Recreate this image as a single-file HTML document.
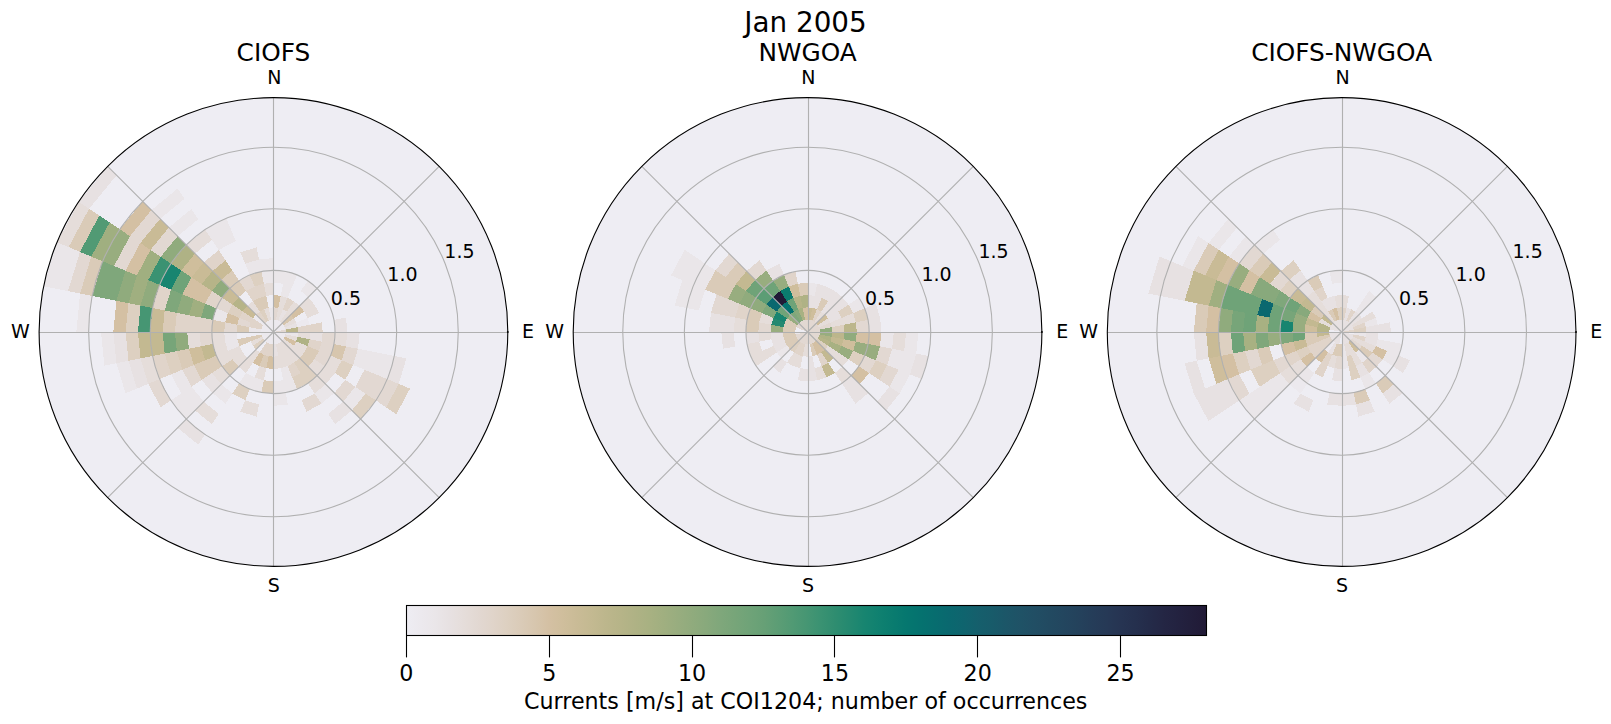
<!DOCTYPE html>
<html lang="en"><head><meta charset="utf-8"><title>Jan 2005</title>
<style>html,body{margin:0;padding:0;background:#fff}svg{display:block}text{font-family:"DejaVu Sans","Liberation Sans",sans-serif;fill:#000}</style></head><body>
<svg width="1611" height="724" viewBox="0 0 1611 724">
<rect width="1611" height="724" fill="#fff"/>
<g>
<circle cx="273.45" cy="332.0" r="234.35" fill="#eeedf3"/>
<g shape-rendering="crispEdges">
<polygon points="273.4,319.7 275.9,319.9 273.4,332.0" fill="#ece9ee"/>
<polygon points="273.4,319.7 273.4,307.4 278.3,307.8 275.9,319.9" fill="#e2d8d2"/>
<polygon points="273.4,307.4 273.4,295.0 280.7,295.8 278.3,307.8" fill="#d4c0a3"/>
<polygon points="273.4,282.7 273.4,270.4 285.5,271.6 283.1,283.7" fill="#eae6e9"/>
<polygon points="275.9,319.9 278.2,320.6 273.4,332.0" fill="#ece9ee"/>
<polygon points="275.9,319.9 278.3,307.8 282.9,309.2 278.2,320.6" fill="#e5ddda"/>
<polygon points="278.3,307.8 280.7,295.8 287.6,297.9 282.9,309.2" fill="#e5ddda"/>
<polygon points="280.7,295.8 283.1,283.7 292.3,286.5 287.6,297.9" fill="#eae6e9"/>
<polygon points="283.1,283.7 285.5,271.6 297.0,275.1 292.3,286.5" fill="#eae6e9"/>
<polygon points="278.2,320.6 280.3,321.8 273.4,332.0" fill="#ece9ee"/>
<polygon points="278.2,320.6 282.9,309.2 287.1,311.5 280.3,321.8" fill="#e7e1e2"/>
<polygon points="282.9,309.2 287.6,297.9 294.0,301.3 287.1,311.5" fill="#e0d4ca"/>
<polygon points="280.3,321.8 282.2,323.3 273.4,332.0" fill="#ece9ee"/>
<polygon points="280.3,321.8 287.1,311.5 290.9,314.6 282.2,323.3" fill="#e5ddda"/>
<polygon points="287.1,311.5 294.0,301.3 299.6,305.9 290.9,314.6" fill="#e5ddda"/>
<polygon points="300.8,291.0 307.7,280.8 317.0,288.4 308.3,297.2" fill="#eae6e9"/>
<polygon points="282.2,323.3 283.7,325.2 273.4,332.0" fill="#ece9ee"/>
<polygon points="282.2,323.3 290.9,314.6 293.9,318.3 283.7,325.2" fill="#d7c6ae"/>
<polygon points="290.9,314.6 299.6,305.9 304.2,311.5 293.9,318.3" fill="#d4c0a3"/>
<polygon points="299.6,305.9 308.3,297.2 314.4,304.6 304.2,311.5" fill="#e5ddda"/>
<polygon points="283.7,325.2 284.8,327.3 273.4,332.0" fill="#ece9ee"/>
<polygon points="283.7,325.2 293.9,318.3 296.2,322.6 284.8,327.3" fill="#e5ddda"/>
<polygon points="304.2,311.5 314.4,304.6 319.0,313.1 307.6,317.9" fill="#e5ddda"/>
<polygon points="284.8,327.3 285.5,329.6 273.4,332.0" fill="#ece9ee"/>
<polygon points="284.8,327.3 296.2,322.6 297.6,327.2 285.5,329.6" fill="#e7e1e2"/>
<polygon points="296.2,322.6 307.6,317.9 309.7,324.8 297.6,327.2" fill="#ece9ee"/>
<polygon points="285.5,329.6 285.8,332.0 273.4,332.0" fill="#e2d8d2"/>
<polygon points="285.5,329.6 297.6,327.2 298.1,332.0 285.8,332.0" fill="#bcb68c"/>
<polygon points="297.6,327.2 309.7,324.8 310.4,332.0 298.1,332.0" fill="#e0d4ca"/>
<polygon points="309.7,324.8 321.8,322.4 322.7,332.0 310.4,332.0" fill="#e0d4ca"/>
<polygon points="333.9,320.0 345.9,317.6 347.4,332.0 335.1,332.0" fill="#e7e1e2"/>
<polygon points="285.8,332.0 285.5,334.4 273.4,332.0" fill="#ece9ee"/>
<polygon points="285.8,332.0 298.1,332.0 297.6,336.8 285.5,334.4" fill="#eae6e9"/>
<polygon points="298.1,332.0 310.4,332.0 309.7,339.2 297.6,336.8" fill="#e5ddda"/>
<polygon points="310.4,332.0 322.7,332.0 321.8,341.6 309.7,339.2" fill="#e7e1e2"/>
<polygon points="322.7,332.0 335.1,332.0 333.9,344.0 321.8,341.6" fill="#e2d8d2"/>
<polygon points="335.1,332.0 347.4,332.0 345.9,346.4 333.9,344.0" fill="#e5ddda"/>
<polygon points="347.4,332.0 359.7,332.0 358.0,348.8 345.9,346.4" fill="#e7e1e2"/>
<polygon points="285.5,334.4 284.8,336.7 273.4,332.0" fill="#ece9ee"/>
<polygon points="285.5,334.4 297.6,336.8 296.2,341.4 284.8,336.7" fill="#e5ddda"/>
<polygon points="297.6,336.8 309.7,339.2 307.6,346.1 296.2,341.4" fill="#afb285"/>
<polygon points="309.7,339.2 321.8,341.6 319.0,350.9 307.6,346.1" fill="#e0d4ca"/>
<polygon points="321.8,341.6 333.9,344.0 330.4,355.6 319.0,350.9" fill="#e2d8d2"/>
<polygon points="333.9,344.0 345.9,346.4 341.7,360.3 330.4,355.6" fill="#d7c6ae"/>
<polygon points="345.9,346.4 358.0,348.8 353.1,365.0 341.7,360.3" fill="#e2d8d2"/>
<polygon points="358.0,348.8 370.1,351.2 364.5,369.7 353.1,365.0" fill="#eae6e9"/>
<polygon points="370.1,351.2 382.2,353.6 375.9,374.4 364.5,369.7" fill="#eae6e9"/>
<polygon points="382.2,353.6 394.3,356.0 387.3,379.1 375.9,374.4" fill="#eae6e9"/>
<polygon points="394.3,356.0 406.4,358.4 398.7,383.9 387.3,379.1" fill="#e7e1e2"/>
<polygon points="284.8,336.7 283.7,338.8 273.4,332.0" fill="#ece9ee"/>
<polygon points="284.8,336.7 296.2,341.4 293.9,345.7 283.7,338.8" fill="#d4c0a3"/>
<polygon points="296.2,341.4 307.6,346.1 304.2,352.5 293.9,345.7" fill="#e5ddda"/>
<polygon points="307.6,346.1 319.0,350.9 314.4,359.4 304.2,352.5" fill="#dacbb8"/>
<polygon points="319.0,350.9 330.4,355.6 324.7,366.2 314.4,359.4" fill="#e2d8d2"/>
<polygon points="330.4,355.6 341.7,360.3 334.9,373.1 324.7,366.2" fill="#e5ddda"/>
<polygon points="341.7,360.3 353.1,365.0 345.2,379.9 334.9,373.1" fill="#ddd0c1"/>
<polygon points="364.5,369.7 375.9,374.4 365.6,393.6 355.4,386.8" fill="#e2d8d2"/>
<polygon points="375.9,374.4 387.3,379.1 375.9,400.4 365.6,393.6" fill="#e2d8d2"/>
<polygon points="387.3,379.1 398.7,383.9 386.1,407.3 375.9,400.4" fill="#e2d8d2"/>
<polygon points="398.7,383.9 410.0,388.6 396.4,414.1 386.1,407.3" fill="#ddd0c1"/>
<polygon points="283.7,338.8 282.2,340.7 273.4,332.0" fill="#ece9ee"/>
<polygon points="283.7,338.8 293.9,345.7 290.9,349.4 282.2,340.7" fill="#e5ddda"/>
<polygon points="293.9,345.7 304.2,352.5 299.6,358.1 290.9,349.4" fill="#e5ddda"/>
<polygon points="304.2,352.5 314.4,359.4 308.3,366.8 299.6,358.1" fill="#dacbb8"/>
<polygon points="314.4,359.4 324.7,366.2 317.0,375.6 308.3,366.8" fill="#e5ddda"/>
<polygon points="324.7,366.2 334.9,373.1 325.7,384.3 317.0,375.6" fill="#e5ddda"/>
<polygon points="345.2,379.9 355.4,386.8 343.1,401.7 334.4,393.0" fill="#e2d8d2"/>
<polygon points="355.4,386.8 365.6,393.6 351.9,410.4 343.1,401.7" fill="#eae6e9"/>
<polygon points="365.6,393.6 375.9,400.4 360.6,419.1 351.9,410.4" fill="#ddd0c1"/>
<polygon points="282.2,340.7 280.3,342.2 273.4,332.0" fill="#ece9ee"/>
<polygon points="282.2,340.7 290.9,349.4 287.1,352.5 280.3,342.2" fill="#e5ddda"/>
<polygon points="290.9,349.4 299.6,358.1 294.0,362.7 287.1,352.5" fill="#e5ddda"/>
<polygon points="299.6,358.1 308.3,366.8 300.8,373.0 294.0,362.7" fill="#ddd0c1"/>
<polygon points="308.3,366.8 317.0,375.6 307.7,383.2 300.8,373.0" fill="#ddd0c1"/>
<polygon points="317.0,375.6 325.7,384.3 314.5,393.5 307.7,383.2" fill="#e5ddda"/>
<polygon points="325.7,384.3 334.4,393.0 321.4,403.7 314.5,393.5" fill="#eae6e9"/>
<polygon points="343.1,401.7 351.9,410.4 335.1,424.2 328.2,413.9" fill="#e7e1e2"/>
<polygon points="280.3,342.2 278.2,343.4 273.4,332.0" fill="#ece9ee"/>
<polygon points="280.3,342.2 287.1,352.5 282.9,354.8 278.2,343.4" fill="#e5ddda"/>
<polygon points="287.1,352.5 294.0,362.7 287.6,366.1 282.9,354.8" fill="#e5ddda"/>
<polygon points="294.0,362.7 300.8,373.0 292.3,377.5 287.6,366.1" fill="#e0d4ca"/>
<polygon points="300.8,373.0 307.7,383.2 297.0,388.9 292.3,377.5" fill="#ddd0c1"/>
<polygon points="314.5,393.5 321.4,403.7 306.5,411.7 301.7,400.3" fill="#e2d8d2"/>
<polygon points="278.2,343.4 275.9,344.1 273.4,332.0" fill="#ece9ee"/>
<polygon points="278.2,343.4 282.9,354.8 278.3,356.2 275.9,344.1" fill="#e5ddda"/>
<polygon points="282.9,354.8 287.6,366.1 280.7,368.2 278.3,356.2" fill="#e5ddda"/>
<polygon points="287.6,366.1 292.3,377.5 283.1,380.3 280.7,368.2" fill="#eae6e9"/>
<polygon points="292.3,377.5 297.0,388.9 285.5,392.4 283.1,380.3" fill="#eae6e9"/>
<polygon points="275.9,344.1 273.4,344.3 273.4,332.0" fill="#ece9ee"/>
<polygon points="275.9,344.1 278.3,356.2 273.4,356.6 273.4,344.3" fill="#e7e1e2"/>
<polygon points="278.3,356.2 280.7,368.2 273.4,369.0 273.4,356.6" fill="#e5ddda"/>
<polygon points="283.1,380.3 285.5,392.4 273.4,393.6 273.4,381.3" fill="#eae6e9"/>
<polygon points="285.5,392.4 287.9,404.5 273.4,405.9 273.4,393.6" fill="#eae6e9"/>
<polygon points="273.4,344.3 271.0,344.1 273.4,332.0" fill="#ece9ee"/>
<polygon points="273.4,344.3 273.4,356.6 268.6,356.2 271.0,344.1" fill="#e0d4ca"/>
<polygon points="273.4,356.6 273.4,369.0 266.2,368.2 268.6,356.2" fill="#d4c0a3"/>
<polygon points="273.4,381.3 273.4,393.6 261.4,392.4 263.8,380.3" fill="#dacbb8"/>
<polygon points="271.0,344.1 268.7,343.4 273.4,332.0" fill="#ece9ee"/>
<polygon points="271.0,344.1 268.6,356.2 264.0,354.8 268.7,343.4" fill="#e0d4ca"/>
<polygon points="268.6,356.2 266.2,368.2 259.3,366.1 264.0,354.8" fill="#dacbb8"/>
<polygon points="266.2,368.2 263.8,380.3 254.6,377.5 259.3,366.1" fill="#e5ddda"/>
<polygon points="263.8,380.3 261.4,392.4 249.9,388.9 254.6,377.5" fill="#eae6e9"/>
<polygon points="259.0,404.5 256.6,416.6 240.4,411.7 245.2,400.3" fill="#e5ddda"/>
<polygon points="268.7,343.4 266.6,342.2 273.4,332.0" fill="#ece9ee"/>
<polygon points="268.7,343.4 264.0,354.8 259.8,352.5 266.6,342.2" fill="#e0d4ca"/>
<polygon points="264.0,354.8 259.3,366.1 252.9,362.7 259.8,352.5" fill="#d4c0a3"/>
<polygon points="254.6,377.5 249.9,388.9 239.2,383.2 246.1,373.0" fill="#eae6e9"/>
<polygon points="249.9,388.9 245.2,400.3 232.4,393.5 239.2,383.2" fill="#ddd0c1"/>
<polygon points="266.6,342.2 264.7,340.7 273.4,332.0" fill="#ece9ee"/>
<polygon points="259.8,352.5 252.9,362.7 247.3,358.1 256.0,349.4" fill="#e5ddda"/>
<polygon points="252.9,362.7 246.1,373.0 238.6,366.8 247.3,358.1" fill="#e5ddda"/>
<polygon points="232.4,393.5 225.5,403.7 212.5,393.0 221.2,384.3" fill="#eae6e9"/>
<polygon points="218.7,413.9 211.8,424.2 195.0,410.4 203.8,401.7" fill="#e5ddda"/>
<polygon points="205.0,434.4 198.2,444.7 177.6,427.8 186.3,419.1" fill="#e7e1e2"/>
<polygon points="264.7,340.7 263.2,338.8 273.4,332.0" fill="#ece9ee"/>
<polygon points="264.7,340.7 256.0,349.4 253.0,345.7 263.2,338.8" fill="#ddd0c1"/>
<polygon points="247.3,358.1 238.6,366.8 232.5,359.4 242.7,352.5" fill="#e5ddda"/>
<polygon points="238.6,366.8 229.9,375.6 222.2,366.2 232.5,359.4" fill="#dacbb8"/>
<polygon points="229.9,375.6 221.2,384.3 212.0,373.1 222.2,366.2" fill="#e5ddda"/>
<polygon points="221.2,384.3 212.5,393.0 201.7,379.9 212.0,373.1" fill="#e7e1e2"/>
<polygon points="203.8,401.7 195.0,410.4 181.3,393.6 191.5,386.8" fill="#eae6e9"/>
<polygon points="195.0,410.4 186.3,419.1 171.0,400.4 181.3,393.6" fill="#eae6e9"/>
<polygon points="263.2,338.8 262.1,336.7 273.4,332.0" fill="#ece9ee"/>
<polygon points="263.2,338.8 253.0,345.7 250.7,341.4 262.1,336.7" fill="#e5ddda"/>
<polygon points="242.7,352.5 232.5,359.4 227.9,350.9 239.3,346.1" fill="#e5ddda"/>
<polygon points="232.5,359.4 222.2,366.2 216.5,355.6 227.9,350.9" fill="#e5ddda"/>
<polygon points="222.2,366.2 212.0,373.1 205.2,360.3 216.5,355.6" fill="#dacbb8"/>
<polygon points="212.0,373.1 201.7,379.9 193.8,365.0 205.2,360.3" fill="#dacbb8"/>
<polygon points="201.7,379.9 191.5,386.8 182.4,369.7 193.8,365.0" fill="#e2d8d2"/>
<polygon points="191.5,386.8 181.3,393.6 171.0,374.4 182.4,369.7" fill="#eae6e9"/>
<polygon points="171.0,400.4 160.8,407.3 148.2,383.9 159.6,379.1" fill="#e2d8d2"/>
<polygon points="262.1,336.7 261.4,334.4 273.4,332.0" fill="#ece9ee"/>
<polygon points="262.1,336.7 250.7,341.4 249.3,336.8 261.4,334.4" fill="#dacbb8"/>
<polygon points="250.7,341.4 239.3,346.1 237.2,339.2 249.3,336.8" fill="#dacbb8"/>
<polygon points="239.3,346.1 227.9,350.9 225.1,341.6 237.2,339.2" fill="#eae6e9"/>
<polygon points="227.9,350.9 216.5,355.6 213.0,344.0 225.1,341.6" fill="#e5ddda"/>
<polygon points="216.5,355.6 205.2,360.3 201.0,346.4 213.0,344.0" fill="#c3b991"/>
<polygon points="205.2,360.3 193.8,365.0 188.9,348.8 201.0,346.4" fill="#cfbe9c"/>
<polygon points="193.8,365.0 182.4,369.7 176.8,351.2 188.9,348.8" fill="#dacbb8"/>
<polygon points="182.4,369.7 171.0,374.4 164.7,353.6 176.8,351.2" fill="#ddd0c1"/>
<polygon points="171.0,374.4 159.6,379.1 152.6,356.0 164.7,353.6" fill="#e0d4ca"/>
<polygon points="159.6,379.1 148.2,383.9 140.5,358.4 152.6,356.0" fill="#e5ddda"/>
<polygon points="148.2,383.9 136.9,388.6 128.5,360.8 140.5,358.4" fill="#e7e1e2"/>
<polygon points="136.9,388.6 125.5,393.3 116.4,363.2 128.5,360.8" fill="#eae6e9"/>
<polygon points="261.4,334.4 261.1,332.0 273.4,332.0" fill="#ece9ee"/>
<polygon points="237.2,339.2 225.1,341.6 224.2,332.0 236.5,332.0" fill="#eae6e9"/>
<polygon points="225.1,341.6 213.0,344.0 211.8,332.0 224.2,332.0" fill="#e5ddda"/>
<polygon points="213.0,344.0 201.0,346.4 199.5,332.0 211.8,332.0" fill="#e2d8d2"/>
<polygon points="201.0,346.4 188.9,348.8 187.2,332.0 199.5,332.0" fill="#e5ddda"/>
<polygon points="188.9,348.8 176.8,351.2 174.9,332.0 187.2,332.0" fill="#90ab7d"/>
<polygon points="176.8,351.2 164.7,353.6 162.6,332.0 174.9,332.0" fill="#77a579"/>
<polygon points="164.7,353.6 152.6,356.0 150.2,332.0 162.6,332.0" fill="#c3b991"/>
<polygon points="152.6,356.0 140.5,358.4 137.9,332.0 150.2,332.0" fill="#c3b991"/>
<polygon points="140.5,358.4 128.5,360.8 125.6,332.0 137.9,332.0" fill="#ddd0c1"/>
<polygon points="128.5,360.8 116.4,363.2 113.3,332.0 125.6,332.0" fill="#e7e1e2"/>
<polygon points="116.4,363.2 104.3,365.6 101.0,332.0 113.3,332.0" fill="#eae6e9"/>
<polygon points="261.1,332.0 261.4,329.6 273.4,332.0" fill="#ece9ee"/>
<polygon points="261.1,332.0 248.8,332.0 249.3,327.2 261.4,329.6" fill="#eae6e9"/>
<polygon points="248.8,332.0 236.5,332.0 237.2,324.8 249.3,327.2" fill="#dacbb8"/>
<polygon points="236.5,332.0 224.2,332.0 225.1,322.4 237.2,324.8" fill="#e2d8d2"/>
<polygon points="224.2,332.0 211.8,332.0 213.0,320.0 225.1,322.4" fill="#dacbb8"/>
<polygon points="211.8,332.0 199.5,332.0 201.0,317.6 213.0,320.0" fill="#e0d4ca"/>
<polygon points="199.5,332.0 187.2,332.0 188.9,315.2 201.0,317.6" fill="#e0d4ca"/>
<polygon points="187.2,332.0 174.9,332.0 176.8,312.8 188.9,315.2" fill="#e0d4ca"/>
<polygon points="174.9,332.0 162.6,332.0 164.7,310.4 176.8,312.8" fill="#dacbb8"/>
<polygon points="162.6,332.0 150.2,332.0 152.6,308.0 164.7,310.4" fill="#c9bb96"/>
<polygon points="150.2,332.0 137.9,332.0 140.5,305.6 152.6,308.0" fill="#469673"/>
<polygon points="137.9,332.0 125.6,332.0 128.5,303.2 140.5,305.6" fill="#ddd0c1"/>
<polygon points="125.6,332.0 113.3,332.0 116.4,300.8 128.5,303.2" fill="#d4c0a3"/>
<polygon points="88.6,332.0 76.3,332.0 80.1,293.5 92.2,295.9" fill="#eae6e9"/>
<polygon points="261.4,329.6 262.1,327.3 273.4,332.0" fill="#ece9ee"/>
<polygon points="261.4,329.6 249.3,327.2 250.7,322.6 262.1,327.3" fill="#e0d4ca"/>
<polygon points="249.3,327.2 237.2,324.8 239.3,317.9 250.7,322.6" fill="#e2d8d2"/>
<polygon points="237.2,324.8 225.1,322.4 227.9,313.1 239.3,317.9" fill="#d4c0a3"/>
<polygon points="225.1,322.4 213.0,320.0 216.5,308.4 227.9,313.1" fill="#eae6e9"/>
<polygon points="213.0,320.0 201.0,317.6 205.2,303.7 216.5,308.4" fill="#7fa77b"/>
<polygon points="201.0,317.6 188.9,315.2 193.8,299.0 205.2,303.7" fill="#a0af80"/>
<polygon points="188.9,315.2 176.8,312.8 182.4,294.3 193.8,299.0" fill="#90ab7d"/>
<polygon points="176.8,312.8 164.7,310.4 171.0,289.6 182.4,294.3" fill="#7fa77b"/>
<polygon points="164.7,310.4 152.6,308.0 159.6,284.9 171.0,289.6" fill="#e0d4ca"/>
<polygon points="152.6,308.0 140.5,305.6 148.2,280.1 159.6,284.9" fill="#90ab7d"/>
<polygon points="140.5,305.6 128.5,303.2 136.9,275.4 148.2,280.1" fill="#a0af80"/>
<polygon points="128.5,303.2 116.4,300.8 125.5,270.7 136.9,275.4" fill="#90ab7d"/>
<polygon points="116.4,300.8 104.3,298.4 114.1,266.0 125.5,270.7" fill="#7fa77b"/>
<polygon points="104.3,298.4 92.2,295.9 102.7,261.3 114.1,266.0" fill="#7fa77b"/>
<polygon points="92.2,295.9 80.1,293.5 91.3,256.6 102.7,261.3" fill="#dacbb8"/>
<polygon points="80.1,293.5 68.0,291.1 80.0,251.9 91.3,256.6" fill="#e2d8d2"/>
<polygon points="68.0,291.1 56.0,288.7 68.6,247.1 80.0,251.9" fill="#eae6e9"/>
<polygon points="56.0,288.7 43.9,286.3 57.2,242.4 68.6,247.1" fill="#eae6e9"/>
<polygon points="262.1,327.3 263.2,325.2 273.4,332.0" fill="#ece9ee"/>
<polygon points="262.1,327.3 250.7,322.6 253.0,318.3 263.2,325.2" fill="#e0d4ca"/>
<polygon points="250.7,322.6 239.3,317.9 242.7,311.5 253.0,318.3" fill="#e0d4ca"/>
<polygon points="239.3,317.9 227.9,313.1 232.5,304.6 242.7,311.5" fill="#ddd0c1"/>
<polygon points="227.9,313.1 216.5,308.4 222.2,297.8 232.5,304.6" fill="#e2d8d2"/>
<polygon points="216.5,308.4 205.2,303.7 212.0,290.9 222.2,297.8" fill="#e0d4ca"/>
<polygon points="205.2,303.7 193.8,299.0 201.7,284.1 212.0,290.9" fill="#d4c0a3"/>
<polygon points="193.8,299.0 182.4,294.3 191.5,277.2 201.7,284.1" fill="#d4c0a3"/>
<polygon points="182.4,294.3 171.0,289.6 181.3,270.4 191.5,277.2" fill="#6fa378"/>
<polygon points="171.0,289.6 159.6,284.9 171.0,263.6 181.3,270.4" fill="#188570"/>
<polygon points="159.6,284.9 148.2,280.1 160.8,256.7 171.0,263.6" fill="#3a9272"/>
<polygon points="148.2,280.1 136.9,275.4 150.5,249.9 160.8,256.7" fill="#a0af80"/>
<polygon points="136.9,275.4 125.5,270.7 140.3,243.0 150.5,249.9" fill="#d4c0a3"/>
<polygon points="125.5,270.7 114.1,266.0 130.0,236.2 140.3,243.0" fill="#e2d8d2"/>
<polygon points="114.1,266.0 102.7,261.3 119.8,229.3 130.0,236.2" fill="#98ad7f"/>
<polygon points="102.7,261.3 91.3,256.6 109.6,222.5 119.8,229.3" fill="#a0af80"/>
<polygon points="91.3,256.6 80.0,251.9 99.3,215.6 109.6,222.5" fill="#519a74"/>
<polygon points="80.0,251.9 68.6,247.1 89.1,208.8 99.3,215.6" fill="#dacbb8"/>
<polygon points="68.6,247.1 57.2,242.4 78.8,202.0 89.1,208.8" fill="#e5ddda"/>
<polygon points="263.2,325.2 264.7,323.3 273.4,332.0" fill="#ece9ee"/>
<polygon points="263.2,325.2 253.0,318.3 256.0,314.6 264.7,323.3" fill="#ece9ee"/>
<polygon points="253.0,318.3 242.7,311.5 247.3,305.9 256.0,314.6" fill="#c9bb96"/>
<polygon points="242.7,311.5 232.5,304.6 238.6,297.2 247.3,305.9" fill="#b6b488"/>
<polygon points="232.5,304.6 222.2,297.8 229.9,288.4 238.6,297.2" fill="#c9bb96"/>
<polygon points="222.2,297.8 212.0,290.9 221.2,279.7 229.9,288.4" fill="#90ab7d"/>
<polygon points="212.0,290.9 201.7,284.1 212.5,271.0 221.2,279.7" fill="#b6b488"/>
<polygon points="201.7,284.1 191.5,277.2 203.8,262.3 212.5,271.0" fill="#c9bb96"/>
<polygon points="191.5,277.2 181.3,270.4 195.0,253.6 203.8,262.3" fill="#cfbe9c"/>
<polygon points="181.3,270.4 171.0,263.6 186.3,244.9 195.0,253.6" fill="#afb285"/>
<polygon points="171.0,263.6 160.8,256.7 177.6,236.2 186.3,244.9" fill="#90ab7d"/>
<polygon points="160.8,256.7 150.5,249.9 168.9,227.5 177.6,236.2" fill="#e2d8d2"/>
<polygon points="150.5,249.9 140.3,243.0 160.2,218.7 168.9,227.5" fill="#c9bb96"/>
<polygon points="140.3,243.0 130.0,236.2 151.5,210.0 160.2,218.7" fill="#e2d8d2"/>
<polygon points="130.0,236.2 119.8,229.3 142.8,201.3 151.5,210.0" fill="#d4c0a3"/>
<polygon points="89.1,208.8 78.8,202.0 107.9,166.5 116.6,175.2" fill="#e7e1e2"/>
<polygon points="264.7,323.3 266.6,321.8 273.4,332.0" fill="#ece9ee"/>
<polygon points="264.7,323.3 256.0,314.6 259.8,311.5 266.6,321.8" fill="#e0d4ca"/>
<polygon points="256.0,314.6 247.3,305.9 252.9,301.3 259.8,311.5" fill="#e5ddda"/>
<polygon points="238.6,297.2 229.9,288.4 239.2,280.8 246.1,291.0" fill="#dacbb8"/>
<polygon points="229.9,288.4 221.2,279.7 232.4,270.5 239.2,280.8" fill="#dacbb8"/>
<polygon points="221.2,279.7 212.5,271.0 225.5,260.3 232.4,270.5" fill="#c9bb96"/>
<polygon points="212.5,271.0 203.8,262.3 218.7,250.1 225.5,260.3" fill="#e0d4ca"/>
<polygon points="195.0,253.6 186.3,244.9 205.0,229.6 211.8,239.8" fill="#e5ddda"/>
<polygon points="177.6,236.2 168.9,227.5 191.3,209.1 198.2,219.3" fill="#eae6e9"/>
<polygon points="160.2,218.7 151.5,210.0 177.6,188.6 184.5,198.8" fill="#eae6e9"/>
<polygon points="266.6,321.8 268.7,320.6 273.4,332.0" fill="#ece9ee"/>
<polygon points="266.6,321.8 259.8,311.5 264.0,309.2 268.7,320.6" fill="#ddd0c1"/>
<polygon points="259.8,311.5 252.9,301.3 259.3,297.9 264.0,309.2" fill="#dacbb8"/>
<polygon points="252.9,301.3 246.1,291.0 254.6,286.5 259.3,297.9" fill="#e0d4ca"/>
<polygon points="246.1,291.0 239.2,280.8 249.9,275.1 254.6,286.5" fill="#e2d8d2"/>
<polygon points="218.7,250.1 211.8,239.8 231.0,229.6 235.7,240.9" fill="#eae6e9"/>
<polygon points="211.8,239.8 205.0,229.6 226.3,218.2 231.0,229.6" fill="#eae6e9"/>
<polygon points="268.7,320.6 271.0,319.9 273.4,332.0" fill="#ece9ee"/>
<polygon points="268.7,320.6 264.0,309.2 268.6,307.8 271.0,319.9" fill="#e5ddda"/>
<polygon points="264.0,309.2 259.3,297.9 266.2,295.8 268.6,307.8" fill="#dacbb8"/>
<polygon points="259.3,297.9 254.6,286.5 263.8,283.7 266.2,295.8" fill="#e0d4ca"/>
<polygon points="254.6,286.5 249.9,275.1 261.4,271.6 263.8,283.7" fill="#ddd0c1"/>
<polygon points="249.9,275.1 245.2,263.7 259.0,259.5 261.4,271.6" fill="#eae6e9"/>
<polygon points="245.2,263.7 240.4,252.3 256.6,247.4 259.0,259.5" fill="#e5ddda"/>
<polygon points="271.0,319.9 273.4,319.7 273.4,332.0" fill="#ece9ee"/>
<polygon points="271.0,319.9 268.6,307.8 273.4,307.4 273.4,319.7" fill="#eae6e9"/>
<polygon points="266.2,295.8 263.8,283.7 273.4,282.7 273.4,295.0" fill="#e5ddda"/>
<polygon points="263.8,283.7 261.4,271.6 273.4,270.4 273.4,282.7" fill="#eae6e9"/>
<polygon points="261.4,271.6 259.0,259.5 273.4,258.1 273.4,270.4" fill="#eae6e9"/>
</g>
<g stroke="#b0b0b0" stroke-width="1.1" fill="none">
<line x1="273.5" y1="97.7" x2="273.5" y2="566.4"/>
<line x1="39.1" y1="332.5" x2="507.8" y2="332.5"/>
<line x1="273.45" y1="332.0" x2="439.2" y2="166.3"/>
<line x1="273.45" y1="332.0" x2="439.2" y2="497.7"/>
<line x1="273.45" y1="332.0" x2="107.7" y2="497.7"/>
<line x1="273.45" y1="332.0" x2="107.7" y2="166.3"/>
<circle cx="273.45" cy="332.0" r="61.6"/>
<circle cx="273.45" cy="332.0" r="123.2"/>
<circle cx="273.45" cy="332.0" r="184.8"/>
</g>
<circle cx="273.45" cy="332.0" r="234.35" fill="none" stroke="#000" stroke-width="1.1"/>
<circle cx="507.80" cy="332.0" r="0.95" fill="#000"/>
<g font-size="19.0">
<text x="274.35" y="83.8" text-anchor="middle">N</text>
<text x="273.84999999999997" y="591.8" text-anchor="middle">S</text>
<text x="29.849999999999994" y="338.2" text-anchor="end">W</text>
<text x="522.05" y="338.2">E</text>
<text x="345.95" y="305.0" text-anchor="middle">0.5</text>
<text x="402.45" y="281.0" text-anchor="middle">1.0</text>
<text x="459.45" y="257.5" text-anchor="middle">1.5</text>
</g>
<text x="273.45" y="60.8" font-size="24.8" text-anchor="middle">CIOFS</text>
</g>
<g>
<circle cx="807.55" cy="332.0" r="234.35" fill="#eeedf3"/>
<g shape-rendering="crispEdges">
<polygon points="807.5,319.7 810.0,319.9 807.5,332.0" fill="#e2d8d2"/>
<polygon points="807.5,319.7 807.5,307.4 812.4,307.8 810.0,319.9" fill="#c9bb96"/>
<polygon points="807.5,307.4 807.5,295.0 814.8,295.8 812.4,307.8" fill="#e7e1e2"/>
<polygon points="807.5,295.0 807.5,282.7 817.2,283.7 814.8,295.8" fill="#eae6e9"/>
<polygon points="810.0,319.9 812.3,320.6 807.5,332.0" fill="#e2d8d2"/>
<polygon points="810.0,319.9 812.4,307.8 817.0,309.2 812.3,320.6" fill="#cfbe9c"/>
<polygon points="812.4,307.8 814.8,295.8 821.7,297.9 817.0,309.2" fill="#e7e1e2"/>
<polygon points="814.8,295.8 817.2,283.7 826.4,286.5 821.7,297.9" fill="#e7e1e2"/>
<polygon points="812.3,320.6 814.4,321.8 807.5,332.0" fill="#e2d8d2"/>
<polygon points="812.3,320.6 817.0,309.2 821.2,311.5 814.4,321.8" fill="#e0d4ca"/>
<polygon points="817.0,309.2 821.7,297.9 828.1,301.3 821.2,311.5" fill="#dacbb8"/>
<polygon points="821.7,297.9 826.4,286.5 834.9,291.0 828.1,301.3" fill="#e7e1e2"/>
<polygon points="814.4,321.8 816.3,323.3 807.5,332.0" fill="#e2d8d2"/>
<polygon points="814.4,321.8 821.2,311.5 825.0,314.6 816.3,323.3" fill="#e5ddda"/>
<polygon points="821.2,311.5 828.1,301.3 833.7,305.9 825.0,314.6" fill="#e7e1e2"/>
<polygon points="828.1,301.3 834.9,291.0 842.4,297.2 833.7,305.9" fill="#e7e1e2"/>
<polygon points="816.3,323.3 817.8,325.2 807.5,332.0" fill="#e2d8d2"/>
<polygon points="816.3,323.3 825.0,314.6 828.0,318.3 817.8,325.2" fill="#cfbe9c"/>
<polygon points="825.0,314.6 833.7,305.9 838.3,311.5 828.0,318.3" fill="#e7e1e2"/>
<polygon points="833.7,305.9 842.4,297.2 848.5,304.6 838.3,311.5" fill="#e7e1e2"/>
<polygon points="817.8,325.2 818.9,327.3 807.5,332.0" fill="#e2d8d2"/>
<polygon points="817.8,325.2 828.0,318.3 830.3,322.6 818.9,327.3" fill="#e5ddda"/>
<polygon points="828.0,318.3 838.3,311.5 841.7,317.9 830.3,322.6" fill="#e7e1e2"/>
<polygon points="838.3,311.5 848.5,304.6 853.1,313.1 841.7,317.9" fill="#ddd0c1"/>
<polygon points="848.5,304.6 858.8,297.8 864.5,308.4 853.1,313.1" fill="#eae6e9"/>
<polygon points="818.9,327.3 819.6,329.6 807.5,332.0" fill="#e2d8d2"/>
<polygon points="818.9,327.3 830.3,322.6 831.7,327.2 819.6,329.6" fill="#e2d8d2"/>
<polygon points="830.3,322.6 841.7,317.9 843.8,324.8 831.7,327.2" fill="#e5ddda"/>
<polygon points="841.7,317.9 853.1,313.1 855.9,322.4 843.8,324.8" fill="#e5ddda"/>
<polygon points="853.1,313.1 864.5,308.4 868.0,320.0 855.9,322.4" fill="#ddd0c1"/>
<polygon points="864.5,308.4 875.8,303.7 880.0,317.6 868.0,320.0" fill="#e7e1e2"/>
<polygon points="819.6,329.6 819.9,332.0 807.5,332.0" fill="#e2d8d2"/>
<polygon points="819.6,329.6 831.7,327.2 832.2,332.0 819.9,332.0" fill="#90ab7d"/>
<polygon points="831.7,327.2 843.8,324.8 844.5,332.0 832.2,332.0" fill="#ddd0c1"/>
<polygon points="843.8,324.8 855.9,322.4 856.8,332.0 844.5,332.0" fill="#bcb68c"/>
<polygon points="855.9,322.4 868.0,320.0 869.1,332.0 856.8,332.0" fill="#e2d8d2"/>
<polygon points="868.0,320.0 880.0,317.6 881.5,332.0 869.1,332.0" fill="#e7e1e2"/>
<polygon points="819.9,332.0 819.6,334.4 807.5,332.0" fill="#e2d8d2"/>
<polygon points="819.9,332.0 832.2,332.0 831.7,336.8 819.6,334.4" fill="#98ad7f"/>
<polygon points="832.2,332.0 844.5,332.0 843.8,339.2 831.7,336.8" fill="#bcb68c"/>
<polygon points="844.5,332.0 856.8,332.0 855.9,341.6 843.8,339.2" fill="#90ab7d"/>
<polygon points="856.8,332.0 869.1,332.0 868.0,344.0 855.9,341.6" fill="#d4c0a3"/>
<polygon points="869.1,332.0 881.5,332.0 880.0,346.4 868.0,344.0" fill="#d4c0a3"/>
<polygon points="881.5,332.0 893.8,332.0 892.1,348.8 880.0,346.4" fill="#eae6e9"/>
<polygon points="893.8,332.0 906.1,332.0 904.2,351.2 892.1,348.8" fill="#e5ddda"/>
<polygon points="906.1,332.0 918.4,332.0 916.3,353.6 904.2,351.2" fill="#eae6e9"/>
<polygon points="819.6,334.4 818.9,336.7 807.5,332.0" fill="#e2d8d2"/>
<polygon points="819.6,334.4 831.7,336.8 830.3,341.4 818.9,336.7" fill="#afb285"/>
<polygon points="831.7,336.8 843.8,339.2 841.7,346.1 830.3,341.4" fill="#c3b991"/>
<polygon points="843.8,339.2 855.9,341.6 853.1,350.9 841.7,346.1" fill="#cfbe9c"/>
<polygon points="855.9,341.6 868.0,344.0 864.5,355.6 853.1,350.9" fill="#98ad7f"/>
<polygon points="868.0,344.0 880.0,346.4 875.8,360.3 864.5,355.6" fill="#98ad7f"/>
<polygon points="880.0,346.4 892.1,348.8 887.2,365.0 875.8,360.3" fill="#e2d8d2"/>
<polygon points="892.1,348.8 904.2,351.2 898.6,369.7 887.2,365.0" fill="#eae6e9"/>
<polygon points="904.2,351.2 916.3,353.6 910.0,374.4 898.6,369.7" fill="#eae6e9"/>
<polygon points="916.3,353.6 928.4,356.0 921.4,379.1 910.0,374.4" fill="#e7e1e2"/>
<polygon points="818.9,336.7 817.8,338.8 807.5,332.0" fill="#e2d8d2"/>
<polygon points="818.9,336.7 830.3,341.4 828.0,345.7 817.8,338.8" fill="#b6b488"/>
<polygon points="830.3,341.4 841.7,346.1 838.3,352.5 828.0,345.7" fill="#a8b182"/>
<polygon points="841.7,346.1 853.1,350.9 848.5,359.4 838.3,352.5" fill="#98ad7f"/>
<polygon points="853.1,350.9 864.5,355.6 858.8,366.2 848.5,359.4" fill="#ddd0c1"/>
<polygon points="864.5,355.6 875.8,360.3 869.0,373.1 858.8,366.2" fill="#e2d8d2"/>
<polygon points="875.8,360.3 887.2,365.0 879.3,379.9 869.0,373.1" fill="#ddd0c1"/>
<polygon points="887.2,365.0 898.6,369.7 889.5,386.8 879.3,379.9" fill="#e2d8d2"/>
<polygon points="898.6,369.7 910.0,374.4 899.7,393.6 889.5,386.8" fill="#eae6e9"/>
<polygon points="817.8,338.8 816.3,340.7 807.5,332.0" fill="#e2d8d2"/>
<polygon points="817.8,338.8 828.0,345.7 825.0,349.4 816.3,340.7" fill="#ddd0c1"/>
<polygon points="828.0,345.7 838.3,352.5 833.7,358.1 825.0,349.4" fill="#e5ddda"/>
<polygon points="838.3,352.5 848.5,359.4 842.4,366.8 833.7,358.1" fill="#e5ddda"/>
<polygon points="858.8,366.2 869.0,373.1 859.8,384.3 851.1,375.6" fill="#d4c0a3"/>
<polygon points="889.5,386.8 899.7,393.6 886.0,410.4 877.2,401.7" fill="#e7e1e2"/>
<polygon points="816.3,340.7 814.4,342.2 807.5,332.0" fill="#e2d8d2"/>
<polygon points="816.3,340.7 825.0,349.4 821.2,352.5 814.4,342.2" fill="#d4c0a3"/>
<polygon points="825.0,349.4 833.7,358.1 828.1,362.7 821.2,352.5" fill="#c3b991"/>
<polygon points="842.4,366.8 851.1,375.6 841.8,383.2 834.9,373.0" fill="#e5ddda"/>
<polygon points="851.1,375.6 859.8,384.3 848.6,393.5 841.8,383.2" fill="#e7e1e2"/>
<polygon points="859.8,384.3 868.5,393.0 855.5,403.7 848.6,393.5" fill="#e7e1e2"/>
<polygon points="814.4,342.2 812.3,343.4 807.5,332.0" fill="#e2d8d2"/>
<polygon points="814.4,342.2 821.2,352.5 817.0,354.8 812.3,343.4" fill="#d4c0a3"/>
<polygon points="821.2,352.5 828.1,362.7 821.7,366.1 817.0,354.8" fill="#e0d4ca"/>
<polygon points="828.1,362.7 834.9,373.0 826.4,377.5 821.7,366.1" fill="#c3b991"/>
<polygon points="812.3,343.4 810.0,344.1 807.5,332.0" fill="#e2d8d2"/>
<polygon points="812.3,343.4 817.0,354.8 812.4,356.2 810.0,344.1" fill="#dacbb8"/>
<polygon points="821.7,366.1 826.4,377.5 817.2,380.3 814.8,368.2" fill="#e5ddda"/>
<polygon points="810.0,344.1 807.5,344.3 807.5,332.0" fill="#e2d8d2"/>
<polygon points="812.4,356.2 814.8,368.2 807.5,369.0 807.5,356.6" fill="#e7e1e2"/>
<polygon points="814.8,368.2 817.2,380.3 807.5,381.3 807.5,369.0" fill="#e7e1e2"/>
<polygon points="807.5,344.3 805.1,344.1 807.5,332.0" fill="#e2d8d2"/>
<polygon points="807.5,344.3 807.5,356.6 802.7,356.2 805.1,344.1" fill="#e5ddda"/>
<polygon points="807.5,369.0 807.5,381.3 797.9,380.3 800.3,368.2" fill="#e7e1e2"/>
<polygon points="805.1,344.1 802.8,343.4 807.5,332.0" fill="#e2d8d2"/>
<polygon points="805.1,344.1 802.7,356.2 798.1,354.8 802.8,343.4" fill="#e0d4ca"/>
<polygon points="802.7,356.2 800.3,368.2 793.4,366.1 798.1,354.8" fill="#e5ddda"/>
<polygon points="802.8,343.4 800.7,342.2 807.5,332.0" fill="#e2d8d2"/>
<polygon points="802.8,343.4 798.1,354.8 793.9,352.5 800.7,342.2" fill="#e0d4ca"/>
<polygon points="798.1,354.8 793.4,366.1 787.0,362.7 793.9,352.5" fill="#e5ddda"/>
<polygon points="800.7,342.2 798.8,340.7 807.5,332.0" fill="#e2d8d2"/>
<polygon points="800.7,342.2 793.9,352.5 790.1,349.4 798.8,340.7" fill="#ddd0c1"/>
<polygon points="787.0,362.7 780.2,373.0 772.7,366.8 781.4,358.1" fill="#e7e1e2"/>
<polygon points="798.8,340.7 797.3,338.8 807.5,332.0" fill="#e2d8d2"/>
<polygon points="798.8,340.7 790.1,349.4 787.1,345.7 797.3,338.8" fill="#dacbb8"/>
<polygon points="790.1,349.4 781.4,358.1 776.8,352.5 787.1,345.7" fill="#eae6e9"/>
<polygon points="797.3,338.8 796.2,336.7 807.5,332.0" fill="#e2d8d2"/>
<polygon points="797.3,338.8 787.1,345.7 784.8,341.4 796.2,336.7" fill="#dacbb8"/>
<polygon points="787.1,345.7 776.8,352.5 773.4,346.1 784.8,341.4" fill="#e7e1e2"/>
<polygon points="776.8,352.5 766.6,359.4 762.0,350.9 773.4,346.1" fill="#e5ddda"/>
<polygon points="766.6,359.4 756.3,366.2 750.6,355.6 762.0,350.9" fill="#e5ddda"/>
<polygon points="796.2,336.7 795.5,334.4 807.5,332.0" fill="#e2d8d2"/>
<polygon points="796.2,336.7 784.8,341.4 783.4,336.8 795.5,334.4" fill="#dacbb8"/>
<polygon points="784.8,341.4 773.4,346.1 771.3,339.2 783.4,336.8" fill="#e7e1e2"/>
<polygon points="762.0,350.9 750.6,355.6 747.1,344.0 759.2,341.6" fill="#e5ddda"/>
<polygon points="795.5,334.4 795.2,332.0 807.5,332.0" fill="#eae6e9"/>
<polygon points="795.5,334.4 783.4,336.8 782.9,332.0 795.2,332.0" fill="#dacbb8"/>
<polygon points="783.4,336.8 771.3,339.2 770.6,332.0 782.9,332.0" fill="#e7e1e2"/>
<polygon points="771.3,339.2 759.2,341.6 758.3,332.0 770.6,332.0" fill="#e5ddda"/>
<polygon points="759.2,341.6 747.1,344.0 745.9,332.0 758.3,332.0" fill="#e7e1e2"/>
<polygon points="735.1,346.4 723.0,348.8 721.3,332.0 733.6,332.0" fill="#e7e1e2"/>
<polygon points="795.2,332.0 782.9,332.0 783.4,327.2 795.5,329.6" fill="#dacbb8"/>
<polygon points="782.9,332.0 770.6,332.0 771.3,324.8 783.4,327.2" fill="#98ad7f"/>
<polygon points="770.6,332.0 758.3,332.0 759.2,322.4 771.3,324.8" fill="#e2d8d2"/>
<polygon points="758.3,332.0 745.9,332.0 747.1,320.0 759.2,322.4" fill="#dacbb8"/>
<polygon points="745.9,332.0 733.6,332.0 735.1,317.6 747.1,320.0" fill="#e5ddda"/>
<polygon points="733.6,332.0 721.3,332.0 723.0,315.2 735.1,317.6" fill="#e7e1e2"/>
<polygon points="721.3,332.0 709.0,332.0 710.9,312.8 723.0,315.2" fill="#e7e1e2"/>
<polygon points="795.5,329.6 783.4,327.2 784.8,322.6 796.2,327.3" fill="#dacbb8"/>
<polygon points="783.4,327.2 771.3,324.8 773.4,317.9 784.8,322.6" fill="#248970"/>
<polygon points="771.3,324.8 759.2,322.4 762.0,313.1 773.4,317.9" fill="#e5ddda"/>
<polygon points="759.2,322.4 747.1,320.0 750.6,308.4 762.0,313.1" fill="#dacbb8"/>
<polygon points="747.1,320.0 735.1,317.6 739.3,303.7 750.6,308.4" fill="#e0d4ca"/>
<polygon points="735.1,317.6 723.0,315.2 727.9,299.0 739.3,303.7" fill="#e2d8d2"/>
<polygon points="723.0,315.2 710.9,312.8 716.5,294.3 727.9,299.0" fill="#e2d8d2"/>
<polygon points="698.8,310.4 686.7,308.0 693.7,284.9 705.1,289.6" fill="#eae6e9"/>
<polygon points="686.7,308.0 674.6,305.6 682.3,280.1 693.7,284.9" fill="#eae6e9"/>
<polygon points="796.2,327.3 797.3,325.2 807.5,332.0" fill="#e2d8d2"/>
<polygon points="796.2,327.3 784.8,322.6 787.1,318.3 797.3,325.2" fill="#dacbb8"/>
<polygon points="784.8,322.6 773.4,317.9 776.8,311.5 787.1,318.3" fill="#188570"/>
<polygon points="773.4,317.9 762.0,313.1 766.6,304.6 776.8,311.5" fill="#7fa77b"/>
<polygon points="762.0,313.1 750.6,308.4 756.3,297.8 766.6,304.6" fill="#90ab7d"/>
<polygon points="750.6,308.4 739.3,303.7 746.1,290.9 756.3,297.8" fill="#90ab7d"/>
<polygon points="739.3,303.7 727.9,299.0 735.8,284.1 746.1,290.9" fill="#98ad7f"/>
<polygon points="727.9,299.0 716.5,294.3 725.6,277.2 735.8,284.1" fill="#dacbb8"/>
<polygon points="716.5,294.3 705.1,289.6 715.4,270.4 725.6,277.2" fill="#dacbb8"/>
<polygon points="705.1,289.6 693.7,284.9 705.1,263.6 715.4,270.4" fill="#eae6e9"/>
<polygon points="693.7,284.9 682.3,280.1 694.9,256.7 705.1,263.6" fill="#eae6e9"/>
<polygon points="682.3,280.1 671.0,275.4 684.6,249.9 694.9,256.7" fill="#eae6e9"/>
<polygon points="797.3,325.2 798.8,323.3 807.5,332.0" fill="#e2d8d2"/>
<polygon points="797.3,325.2 787.1,318.3 790.1,314.6 798.8,323.3" fill="#98ad7f"/>
<polygon points="787.1,318.3 776.8,311.5 781.4,305.9 790.1,314.6" fill="#6fa378"/>
<polygon points="776.8,311.5 766.6,304.6 772.7,297.2 781.4,305.9" fill="#0a686f"/>
<polygon points="766.6,304.6 756.3,297.8 764.0,288.4 772.7,297.2" fill="#5c9d75"/>
<polygon points="756.3,297.8 746.1,290.9 755.3,279.7 764.0,288.4" fill="#6fa378"/>
<polygon points="746.1,290.9 735.8,284.1 746.6,271.0 755.3,279.7" fill="#c3b991"/>
<polygon points="735.8,284.1 725.6,277.2 737.9,262.3 746.6,271.0" fill="#dacbb8"/>
<polygon points="725.6,277.2 715.4,270.4 729.1,253.6 737.9,262.3" fill="#e2d8d2"/>
<polygon points="798.8,323.3 800.7,321.8 807.5,332.0" fill="#e2d8d2"/>
<polygon points="798.8,323.3 790.1,314.6 793.9,311.5 800.7,321.8" fill="#7fa77b"/>
<polygon points="790.1,314.6 781.4,305.9 787.0,301.3 793.9,311.5" fill="#05726f"/>
<polygon points="781.4,305.9 772.7,297.2 780.2,291.0 787.0,301.3" fill="#211a36"/>
<polygon points="772.7,297.2 764.0,288.4 773.3,280.8 780.2,291.0" fill="#6fa378"/>
<polygon points="764.0,288.4 755.3,279.7 766.5,270.5 773.3,280.8" fill="#98ad7f"/>
<polygon points="755.3,279.7 746.6,271.0 759.6,260.3 766.5,270.5" fill="#e2d8d2"/>
<polygon points="800.7,321.8 802.8,320.6 807.5,332.0" fill="#e2d8d2"/>
<polygon points="800.7,321.8 793.9,311.5 798.1,309.2 802.8,320.6" fill="#88a97c"/>
<polygon points="793.9,311.5 787.0,301.3 793.4,297.9 798.1,309.2" fill="#6fa378"/>
<polygon points="787.0,301.3 780.2,291.0 788.7,286.5 793.4,297.9" fill="#0a7c6f"/>
<polygon points="780.2,291.0 773.3,280.8 784.0,275.1 788.7,286.5" fill="#98ad7f"/>
<polygon points="773.3,280.8 766.5,270.5 779.3,263.7 784.0,275.1" fill="#e7e1e2"/>
<polygon points="802.8,320.6 805.1,319.9 807.5,332.0" fill="#e2d8d2"/>
<polygon points="802.8,320.6 798.1,309.2 802.7,307.8 805.1,319.9" fill="#a8b182"/>
<polygon points="798.1,309.2 793.4,297.9 800.3,295.8 802.7,307.8" fill="#b6b488"/>
<polygon points="793.4,297.9 788.7,286.5 797.9,283.7 800.3,295.8" fill="#cfbe9c"/>
<polygon points="788.7,286.5 784.0,275.1 795.5,271.6 797.9,283.7" fill="#e0d4ca"/>
<polygon points="805.1,319.9 807.5,319.7 807.5,332.0" fill="#e2d8d2"/>
<polygon points="805.1,319.9 802.7,307.8 807.5,307.4 807.5,319.7" fill="#d4c0a3"/>
<polygon points="802.7,307.8 800.3,295.8 807.5,295.0 807.5,307.4" fill="#afb285"/>
<polygon points="800.3,295.8 797.9,283.7 807.5,282.7 807.5,295.0" fill="#dacbb8"/>
</g>
<g stroke="#b0b0b0" stroke-width="1.1" fill="none">
<line x1="808.5" y1="97.7" x2="808.5" y2="566.4"/>
<line x1="573.2" y1="332.5" x2="1041.9" y2="332.5"/>
<line x1="807.55" y1="332.0" x2="973.3" y2="166.3"/>
<line x1="807.55" y1="332.0" x2="973.3" y2="497.7"/>
<line x1="807.55" y1="332.0" x2="641.8" y2="497.7"/>
<line x1="807.55" y1="332.0" x2="641.8" y2="166.3"/>
<circle cx="807.55" cy="332.0" r="61.6"/>
<circle cx="807.55" cy="332.0" r="123.2"/>
<circle cx="807.55" cy="332.0" r="184.8"/>
</g>
<circle cx="807.55" cy="332.0" r="234.35" fill="none" stroke="#000" stroke-width="1.1"/>
<circle cx="1041.90" cy="332.0" r="0.95" fill="#000"/>
<g font-size="19.0">
<text x="808.45" y="83.8" text-anchor="middle">N</text>
<text x="807.9499999999999" y="591.8" text-anchor="middle">S</text>
<text x="563.9499999999999" y="338.2" text-anchor="end">W</text>
<text x="1056.15" y="338.2">E</text>
<text x="880.05" y="305.0" text-anchor="middle">0.5</text>
<text x="936.55" y="281.0" text-anchor="middle">1.0</text>
<text x="993.55" y="257.5" text-anchor="middle">1.5</text>
</g>
<text x="807.55" y="60.8" font-size="24.8" text-anchor="middle">NWGOA</text>
</g>
<g>
<circle cx="1341.65" cy="332.0" r="234.35" fill="#eeedf3"/>
<g shape-rendering="crispEdges">
<polygon points="1341.7,319.7 1344.1,319.9 1341.7,332.0" fill="#e7e1e2"/>
<polygon points="1341.7,319.7 1341.7,307.4 1346.5,307.8 1344.1,319.9" fill="#e0d4ca"/>
<polygon points="1341.7,307.4 1341.7,295.0 1348.9,295.8 1346.5,307.8" fill="#e5ddda"/>
<polygon points="1344.1,319.9 1346.4,320.6 1341.7,332.0" fill="#e7e1e2"/>
<polygon points="1344.1,319.9 1346.5,307.8 1351.1,309.2 1346.4,320.6" fill="#e7e1e2"/>
<polygon points="1346.4,320.6 1348.5,321.8 1341.7,332.0" fill="#e7e1e2"/>
<polygon points="1346.4,320.6 1351.1,309.2 1355.3,311.5 1348.5,321.8" fill="#e0d4ca"/>
<polygon points="1348.5,321.8 1350.4,323.3 1341.7,332.0" fill="#e7e1e2"/>
<polygon points="1348.5,321.8 1355.3,311.5 1359.1,314.6 1350.4,323.3" fill="#e7e1e2"/>
<polygon points="1355.3,311.5 1362.2,301.3 1367.8,305.9 1359.1,314.6" fill="#eae6e9"/>
<polygon points="1362.2,301.3 1369.0,291.0 1376.5,297.2 1367.8,305.9" fill="#eae6e9"/>
<polygon points="1350.4,323.3 1351.9,325.2 1341.7,332.0" fill="#e7e1e2"/>
<polygon points="1350.4,323.3 1359.1,314.6 1362.1,318.3 1351.9,325.2" fill="#e7e1e2"/>
<polygon points="1351.9,325.2 1353.0,327.3 1341.7,332.0" fill="#e7e1e2"/>
<polygon points="1351.9,325.2 1362.1,318.3 1364.4,322.6 1353.0,327.3" fill="#e5ddda"/>
<polygon points="1362.1,318.3 1372.4,311.5 1375.8,317.9 1364.4,322.6" fill="#e5ddda"/>
<polygon points="1353.0,327.3 1353.7,329.6 1341.7,332.0" fill="#e7e1e2"/>
<polygon points="1353.0,327.3 1364.4,322.6 1365.8,327.2 1353.7,329.6" fill="#e0d4ca"/>
<polygon points="1364.4,322.6 1375.8,317.9 1377.9,324.8 1365.8,327.2" fill="#eae6e9"/>
<polygon points="1353.7,329.6 1354.0,332.0 1341.7,332.0" fill="#e0d4ca"/>
<polygon points="1353.7,329.6 1365.8,327.2 1366.3,332.0 1354.0,332.0" fill="#ddd0c1"/>
<polygon points="1365.8,327.2 1377.9,324.8 1378.6,332.0 1366.3,332.0" fill="#e7e1e2"/>
<polygon points="1377.9,324.8 1390.0,322.4 1390.9,332.0 1378.6,332.0" fill="#e7e1e2"/>
<polygon points="1354.0,332.0 1366.3,332.0 1365.8,336.8 1353.7,334.4" fill="#eae6e9"/>
<polygon points="1366.3,332.0 1378.6,332.0 1377.9,339.2 1365.8,336.8" fill="#e7e1e2"/>
<polygon points="1353.7,334.4 1353.0,336.7 1341.7,332.0" fill="#e7e1e2"/>
<polygon points="1353.7,334.4 1365.8,336.8 1364.4,341.4 1353.0,336.7" fill="#e0d4ca"/>
<polygon points="1365.8,336.8 1377.9,339.2 1375.8,346.1 1364.4,341.4" fill="#e7e1e2"/>
<polygon points="1377.9,339.2 1390.0,341.6 1387.2,350.9 1375.8,346.1" fill="#eae6e9"/>
<polygon points="1390.0,341.6 1402.1,344.0 1398.6,355.6 1387.2,350.9" fill="#eae6e9"/>
<polygon points="1353.0,336.7 1351.9,338.8 1341.7,332.0" fill="#e7e1e2"/>
<polygon points="1353.0,336.7 1364.4,341.4 1362.1,345.7 1351.9,338.8" fill="#e5ddda"/>
<polygon points="1364.4,341.4 1375.8,346.1 1372.4,352.5 1362.1,345.7" fill="#e5ddda"/>
<polygon points="1375.8,346.1 1387.2,350.9 1382.6,359.4 1372.4,352.5" fill="#d4c0a3"/>
<polygon points="1387.2,350.9 1398.6,355.6 1392.9,366.2 1382.6,359.4" fill="#eae6e9"/>
<polygon points="1398.6,355.6 1409.9,360.3 1403.1,373.1 1392.9,366.2" fill="#e7e1e2"/>
<polygon points="1351.9,338.8 1350.4,340.7 1341.7,332.0" fill="#e7e1e2"/>
<polygon points="1351.9,338.8 1362.1,345.7 1359.1,349.4 1350.4,340.7" fill="#e2d8d2"/>
<polygon points="1362.1,345.7 1372.4,352.5 1367.8,358.1 1359.1,349.4" fill="#dacbb8"/>
<polygon points="1372.4,352.5 1382.6,359.4 1376.5,366.8 1367.8,358.1" fill="#e2d8d2"/>
<polygon points="1350.4,340.7 1348.5,342.2 1341.7,332.0" fill="#e7e1e2"/>
<polygon points="1350.4,340.7 1359.1,349.4 1355.3,352.5 1348.5,342.2" fill="#cfbe9c"/>
<polygon points="1359.1,349.4 1367.8,358.1 1362.2,362.7 1355.3,352.5" fill="#eae6e9"/>
<polygon points="1367.8,358.1 1376.5,366.8 1369.0,373.0 1362.2,362.7" fill="#e0d4ca"/>
<polygon points="1385.2,375.6 1393.9,384.3 1382.7,393.5 1375.9,383.2" fill="#dacbb8"/>
<polygon points="1393.9,384.3 1402.6,393.0 1389.6,403.7 1382.7,393.5" fill="#e7e1e2"/>
<polygon points="1348.5,342.2 1346.4,343.4 1341.7,332.0" fill="#e7e1e2"/>
<polygon points="1348.5,342.2 1355.3,352.5 1351.1,354.8 1346.4,343.4" fill="#e5ddda"/>
<polygon points="1355.3,352.5 1362.2,362.7 1355.8,366.1 1351.1,354.8" fill="#e5ddda"/>
<polygon points="1362.2,362.7 1369.0,373.0 1360.5,377.5 1355.8,366.1" fill="#e7e1e2"/>
<polygon points="1369.0,373.0 1375.9,383.2 1365.2,388.9 1360.5,377.5" fill="#eae6e9"/>
<polygon points="1346.4,343.4 1344.1,344.1 1341.7,332.0" fill="#e7e1e2"/>
<polygon points="1346.4,343.4 1351.1,354.8 1346.5,356.2 1344.1,344.1" fill="#e5ddda"/>
<polygon points="1351.1,354.8 1355.8,366.1 1348.9,368.2 1346.5,356.2" fill="#ddd0c1"/>
<polygon points="1355.8,366.1 1360.5,377.5 1351.3,380.3 1348.9,368.2" fill="#ddd0c1"/>
<polygon points="1365.2,388.9 1369.9,400.3 1356.1,404.5 1353.7,392.4" fill="#dacbb8"/>
<polygon points="1369.9,400.3 1374.7,411.7 1358.5,416.6 1356.1,404.5" fill="#e7e1e2"/>
<polygon points="1344.1,344.1 1341.7,344.3 1341.7,332.0" fill="#e7e1e2"/>
<polygon points="1344.1,344.1 1346.5,356.2 1341.7,356.6 1341.7,344.3" fill="#eae6e9"/>
<polygon points="1346.5,356.2 1348.9,368.2 1341.7,369.0 1341.7,356.6" fill="#eae6e9"/>
<polygon points="1353.7,392.4 1356.1,404.5 1341.7,405.9 1341.7,393.6" fill="#e7e1e2"/>
<polygon points="1341.7,344.3 1341.7,356.6 1336.8,356.2 1339.2,344.1" fill="#dacbb8"/>
<polygon points="1341.7,356.6 1341.7,369.0 1334.4,368.2 1336.8,356.2" fill="#e2d8d2"/>
<polygon points="1341.7,369.0 1341.7,381.3 1332.0,380.3 1334.4,368.2" fill="#e7e1e2"/>
<polygon points="1341.7,393.6 1341.7,405.9 1327.2,404.5 1329.6,392.4" fill="#e7e1e2"/>
<polygon points="1339.2,344.1 1336.9,343.4 1341.7,332.0" fill="#e7e1e2"/>
<polygon points="1339.2,344.1 1336.8,356.2 1332.2,354.8 1336.9,343.4" fill="#dacbb8"/>
<polygon points="1336.8,356.2 1334.4,368.2 1327.5,366.1 1332.2,354.8" fill="#e5ddda"/>
<polygon points="1336.9,343.4 1334.8,342.2 1341.7,332.0" fill="#e7e1e2"/>
<polygon points="1336.9,343.4 1332.2,354.8 1328.0,352.5 1334.8,342.2" fill="#e7e1e2"/>
<polygon points="1332.2,354.8 1327.5,366.1 1321.1,362.7 1328.0,352.5" fill="#e0d4ca"/>
<polygon points="1327.5,366.1 1322.8,377.5 1314.3,373.0 1321.1,362.7" fill="#e0d4ca"/>
<polygon points="1313.4,400.3 1308.6,411.7 1293.7,403.7 1300.6,393.5" fill="#e7e1e2"/>
<polygon points="1334.8,342.2 1332.9,340.7 1341.7,332.0" fill="#e7e1e2"/>
<polygon points="1334.8,342.2 1328.0,352.5 1324.2,349.4 1332.9,340.7" fill="#ece9ee"/>
<polygon points="1328.0,352.5 1321.1,362.7 1315.5,358.1 1324.2,349.4" fill="#d4c0a3"/>
<polygon points="1314.3,373.0 1307.4,383.2 1298.1,375.6 1306.8,366.8" fill="#eae6e9"/>
<polygon points="1307.4,383.2 1300.6,393.5 1289.4,384.3 1298.1,375.6" fill="#ece9ee"/>
<polygon points="1332.9,340.7 1331.4,338.8 1341.7,332.0" fill="#e7e1e2"/>
<polygon points="1332.9,340.7 1324.2,349.4 1321.2,345.7 1331.4,338.8" fill="#e0d4ca"/>
<polygon points="1324.2,349.4 1315.5,358.1 1310.9,352.5 1321.2,345.7" fill="#e0d4ca"/>
<polygon points="1315.5,358.1 1306.8,366.8 1300.7,359.4 1310.9,352.5" fill="#d4c0a3"/>
<polygon points="1306.8,366.8 1298.1,375.6 1290.4,366.2 1300.7,359.4" fill="#e5ddda"/>
<polygon points="1298.1,375.6 1289.4,384.3 1280.2,373.1 1290.4,366.2" fill="#e5ddda"/>
<polygon points="1289.4,384.3 1280.7,393.0 1269.9,379.9 1280.2,373.1" fill="#eae6e9"/>
<polygon points="1280.7,393.0 1272.0,401.7 1259.7,386.8 1269.9,379.9" fill="#eae6e9"/>
<polygon points="1272.0,401.7 1263.2,410.4 1249.5,393.6 1259.7,386.8" fill="#eae6e9"/>
<polygon points="1263.2,410.4 1254.5,419.1 1239.2,400.4 1249.5,393.6" fill="#eae6e9"/>
<polygon points="1331.4,338.8 1330.3,336.7 1341.7,332.0" fill="#e7e1e2"/>
<polygon points="1331.4,338.8 1321.2,345.7 1318.9,341.4 1330.3,336.7" fill="#e0d4ca"/>
<polygon points="1321.2,345.7 1310.9,352.5 1307.5,346.1 1318.9,341.4" fill="#e0d4ca"/>
<polygon points="1310.9,352.5 1300.7,359.4 1296.1,350.9 1307.5,346.1" fill="#ddd0c1"/>
<polygon points="1300.7,359.4 1290.4,366.2 1284.7,355.6 1296.1,350.9" fill="#e0d4ca"/>
<polygon points="1290.4,366.2 1280.2,373.1 1273.4,360.3 1284.7,355.6" fill="#e2d8d2"/>
<polygon points="1280.2,373.1 1269.9,379.9 1262.0,365.0 1273.4,360.3" fill="#ddd0c1"/>
<polygon points="1269.9,379.9 1259.7,386.8 1250.6,369.7 1262.0,365.0" fill="#ddd0c1"/>
<polygon points="1249.5,393.6 1239.2,400.4 1227.8,379.1 1239.2,374.4" fill="#e2d8d2"/>
<polygon points="1239.2,400.4 1229.0,407.3 1216.4,383.9 1227.8,379.1" fill="#e7e1e2"/>
<polygon points="1229.0,407.3 1218.7,414.1 1205.1,388.6 1216.4,383.9" fill="#e7e1e2"/>
<polygon points="1218.7,414.1 1208.5,421.0 1193.7,393.3 1205.1,388.6" fill="#e7e1e2"/>
<polygon points="1330.3,336.7 1329.6,334.4 1341.7,332.0" fill="#e7e1e2"/>
<polygon points="1330.3,336.7 1318.9,341.4 1317.5,336.8 1329.6,334.4" fill="#dacbb8"/>
<polygon points="1318.9,341.4 1307.5,346.1 1305.4,339.2 1317.5,336.8" fill="#dacbb8"/>
<polygon points="1307.5,346.1 1296.1,350.9 1293.3,341.6 1305.4,339.2" fill="#c9bb96"/>
<polygon points="1296.1,350.9 1284.7,355.6 1281.2,344.0 1293.3,341.6" fill="#d4c0a3"/>
<polygon points="1273.4,360.3 1262.0,365.0 1257.1,348.8 1269.2,346.4" fill="#dacbb8"/>
<polygon points="1262.0,365.0 1250.6,369.7 1245.0,351.2 1257.1,348.8" fill="#e2d8d2"/>
<polygon points="1250.6,369.7 1239.2,374.4 1232.9,353.6 1245.0,351.2" fill="#ddd0c1"/>
<polygon points="1239.2,374.4 1227.8,379.1 1220.8,356.0 1232.9,353.6" fill="#d4c0a3"/>
<polygon points="1227.8,379.1 1216.4,383.9 1208.7,358.4 1220.8,356.0" fill="#cfbe9c"/>
<polygon points="1205.1,388.6 1193.7,393.3 1184.6,363.2 1196.7,360.8" fill="#e7e1e2"/>
<polygon points="1329.6,334.4 1329.3,332.0 1341.7,332.0" fill="#e7e1e2"/>
<polygon points="1329.6,334.4 1317.5,336.8 1317.0,332.0 1329.3,332.0" fill="#c3b991"/>
<polygon points="1317.5,336.8 1305.4,339.2 1304.7,332.0 1317.0,332.0" fill="#dacbb8"/>
<polygon points="1305.4,339.2 1293.3,341.6 1292.4,332.0 1304.7,332.0" fill="#6fa378"/>
<polygon points="1293.3,341.6 1281.2,344.0 1280.1,332.0 1292.4,332.0" fill="#7fa77b"/>
<polygon points="1281.2,344.0 1269.2,346.4 1267.7,332.0 1280.1,332.0" fill="#98ad7f"/>
<polygon points="1269.2,346.4 1257.1,348.8 1255.4,332.0 1267.7,332.0" fill="#7fa77b"/>
<polygon points="1257.1,348.8 1245.0,351.2 1243.1,332.0 1255.4,332.0" fill="#a8b182"/>
<polygon points="1245.0,351.2 1232.9,353.6 1230.8,332.0 1243.1,332.0" fill="#6fa378"/>
<polygon points="1232.9,353.6 1220.8,356.0 1218.5,332.0 1230.8,332.0" fill="#ddd0c1"/>
<polygon points="1220.8,356.0 1208.7,358.4 1206.1,332.0 1218.5,332.0" fill="#c9bb96"/>
<polygon points="1208.7,358.4 1196.7,360.8 1193.8,332.0 1206.1,332.0" fill="#e7e1e2"/>
<polygon points="1329.3,332.0 1317.0,332.0 1317.5,327.2 1329.6,329.6" fill="#b6b488"/>
<polygon points="1317.0,332.0 1304.7,332.0 1305.4,324.8 1317.5,327.2" fill="#cfbe9c"/>
<polygon points="1304.7,332.0 1292.4,332.0 1293.3,322.4 1305.4,324.8" fill="#98ad7f"/>
<polygon points="1292.4,332.0 1280.1,332.0 1281.2,320.0 1293.3,322.4" fill="#188570"/>
<polygon points="1280.1,332.0 1267.7,332.0 1269.2,317.6 1281.2,320.0" fill="#6fa378"/>
<polygon points="1267.7,332.0 1255.4,332.0 1257.1,315.2 1269.2,317.6" fill="#a8b182"/>
<polygon points="1255.4,332.0 1243.1,332.0 1245.0,312.8 1257.1,315.2" fill="#6fa378"/>
<polygon points="1243.1,332.0 1230.8,332.0 1232.9,310.4 1245.0,312.8" fill="#77a579"/>
<polygon points="1230.8,332.0 1218.5,332.0 1220.8,308.0 1232.9,310.4" fill="#90ab7d"/>
<polygon points="1218.5,332.0 1206.1,332.0 1208.7,305.6 1220.8,308.0" fill="#d4c0a3"/>
<polygon points="1206.1,332.0 1193.8,332.0 1196.7,303.2 1208.7,305.6" fill="#dacbb8"/>
<polygon points="1329.6,329.6 1330.3,327.3 1341.7,332.0" fill="#e7e1e2"/>
<polygon points="1329.6,329.6 1317.5,327.2 1318.9,322.6 1330.3,327.3" fill="#b6b488"/>
<polygon points="1317.5,327.2 1305.4,324.8 1307.5,317.9 1318.9,322.6" fill="#c3b991"/>
<polygon points="1305.4,324.8 1293.3,322.4 1296.1,313.1 1307.5,317.9" fill="#98ad7f"/>
<polygon points="1293.3,322.4 1281.2,320.0 1284.7,308.4 1296.1,313.1" fill="#77a579"/>
<polygon points="1281.2,320.0 1269.2,317.6 1273.4,303.7 1284.7,308.4" fill="#6fa378"/>
<polygon points="1269.2,317.6 1257.1,315.2 1262.0,299.0 1273.4,303.7" fill="#0a686f"/>
<polygon points="1257.1,315.2 1245.0,312.8 1250.6,294.3 1262.0,299.0" fill="#6fa378"/>
<polygon points="1245.0,312.8 1232.9,310.4 1239.2,289.6 1250.6,294.3" fill="#6fa378"/>
<polygon points="1232.9,310.4 1220.8,308.0 1227.8,284.9 1239.2,289.6" fill="#6fa378"/>
<polygon points="1220.8,308.0 1208.7,305.6 1216.4,280.1 1227.8,284.9" fill="#a0af80"/>
<polygon points="1208.7,305.6 1196.7,303.2 1205.1,275.4 1216.4,280.1" fill="#c3b991"/>
<polygon points="1196.7,303.2 1184.6,300.8 1193.7,270.7 1205.1,275.4" fill="#c3b991"/>
<polygon points="1184.6,300.8 1172.5,298.4 1182.3,266.0 1193.7,270.7" fill="#e7e1e2"/>
<polygon points="1172.5,298.4 1160.4,295.9 1170.9,261.3 1182.3,266.0" fill="#e7e1e2"/>
<polygon points="1160.4,295.9 1148.3,293.5 1159.5,256.6 1170.9,261.3" fill="#e7e1e2"/>
<polygon points="1330.3,327.3 1331.4,325.2 1341.7,332.0" fill="#e7e1e2"/>
<polygon points="1330.3,327.3 1318.9,322.6 1321.2,318.3 1331.4,325.2" fill="#e5ddda"/>
<polygon points="1318.9,322.6 1307.5,317.9 1310.9,311.5 1321.2,318.3" fill="#d4c0a3"/>
<polygon points="1307.5,317.9 1296.1,313.1 1300.7,304.6 1310.9,311.5" fill="#88a97c"/>
<polygon points="1296.1,313.1 1284.7,308.4 1290.4,297.8 1300.7,304.6" fill="#6fa378"/>
<polygon points="1284.7,308.4 1273.4,303.7 1280.2,290.9 1290.4,297.8" fill="#7fa77b"/>
<polygon points="1273.4,303.7 1262.0,299.0 1269.9,284.1 1280.2,290.9" fill="#88a97c"/>
<polygon points="1262.0,299.0 1250.6,294.3 1259.7,277.2 1269.9,284.1" fill="#88a97c"/>
<polygon points="1250.6,294.3 1239.2,289.6 1249.5,270.4 1259.7,277.2" fill="#d4c0a3"/>
<polygon points="1239.2,289.6 1227.8,284.9 1239.2,263.6 1249.5,270.4" fill="#98ad7f"/>
<polygon points="1227.8,284.9 1216.4,280.1 1229.0,256.7 1239.2,263.6" fill="#d4c0a3"/>
<polygon points="1216.4,280.1 1205.1,275.4 1218.7,249.9 1229.0,256.7" fill="#c9bb96"/>
<polygon points="1205.1,275.4 1193.7,270.7 1208.5,243.0 1218.7,249.9" fill="#dacbb8"/>
<polygon points="1193.7,270.7 1182.3,266.0 1198.2,236.2 1208.5,243.0" fill="#eae6e9"/>
<polygon points="1331.4,325.2 1332.9,323.3 1341.7,332.0" fill="#e7e1e2"/>
<polygon points="1331.4,325.2 1321.2,318.3 1324.2,314.6 1332.9,323.3" fill="#c3b991"/>
<polygon points="1321.2,318.3 1310.9,311.5 1315.5,305.9 1324.2,314.6" fill="#dacbb8"/>
<polygon points="1310.9,311.5 1300.7,304.6 1306.8,297.2 1315.5,305.9" fill="#c3b991"/>
<polygon points="1300.7,304.6 1290.4,297.8 1298.1,288.4 1306.8,297.2" fill="#c9bb96"/>
<polygon points="1290.4,297.8 1280.2,290.9 1289.4,279.7 1298.1,288.4" fill="#ddd0c1"/>
<polygon points="1280.2,290.9 1269.9,284.1 1280.7,271.0 1289.4,279.7" fill="#e2d8d2"/>
<polygon points="1269.9,284.1 1259.7,277.2 1272.0,262.3 1280.7,271.0" fill="#c9bb96"/>
<polygon points="1259.7,277.2 1249.5,270.4 1263.2,253.6 1272.0,262.3" fill="#dacbb8"/>
<polygon points="1249.5,270.4 1239.2,263.6 1254.5,244.9 1263.2,253.6" fill="#e2d8d2"/>
<polygon points="1239.2,263.6 1229.0,256.7 1245.8,236.2 1254.5,244.9" fill="#eae6e9"/>
<polygon points="1218.7,249.9 1208.5,243.0 1228.4,218.7 1237.1,227.5" fill="#eae6e9"/>
<polygon points="1332.9,323.3 1334.8,321.8 1341.7,332.0" fill="#e7e1e2"/>
<polygon points="1332.9,323.3 1324.2,314.6 1328.0,311.5 1334.8,321.8" fill="#e5ddda"/>
<polygon points="1324.2,314.6 1315.5,305.9 1321.1,301.3 1328.0,311.5" fill="#e5ddda"/>
<polygon points="1315.5,305.9 1306.8,297.2 1314.3,291.0 1321.1,301.3" fill="#e5ddda"/>
<polygon points="1306.8,297.2 1298.1,288.4 1307.4,280.8 1314.3,291.0" fill="#e7e1e2"/>
<polygon points="1298.1,288.4 1289.4,279.7 1300.6,270.5 1307.4,280.8" fill="#e7e1e2"/>
<polygon points="1289.4,279.7 1280.7,271.0 1293.7,260.3 1300.6,270.5" fill="#ddd0c1"/>
<polygon points="1263.2,253.6 1254.5,244.9 1273.2,229.6 1280.0,239.8" fill="#eae6e9"/>
<polygon points="1334.8,321.8 1336.9,320.6 1341.7,332.0" fill="#e7e1e2"/>
<polygon points="1334.8,321.8 1328.0,311.5 1332.2,309.2 1336.9,320.6" fill="#dacbb8"/>
<polygon points="1328.0,311.5 1321.1,301.3 1327.5,297.9 1332.2,309.2" fill="#e7e1e2"/>
<polygon points="1321.1,301.3 1314.3,291.0 1322.8,286.5 1327.5,297.9" fill="#e0d4ca"/>
<polygon points="1314.3,291.0 1307.4,280.8 1318.1,275.1 1322.8,286.5" fill="#dacbb8"/>
<polygon points="1336.9,320.6 1339.2,319.9 1341.7,332.0" fill="#e7e1e2"/>
<polygon points="1336.9,320.6 1332.2,309.2 1336.8,307.8 1339.2,319.9" fill="#d4c0a3"/>
<polygon points="1332.2,309.2 1327.5,297.9 1334.4,295.8 1336.8,307.8" fill="#e7e1e2"/>
<polygon points="1339.2,319.9 1341.7,319.7 1341.7,332.0" fill="#e7e1e2"/>
<polygon points="1339.2,319.9 1336.8,307.8 1341.7,307.4 1341.7,319.7" fill="#ddd0c1"/>
<polygon points="1336.8,307.8 1334.4,295.8 1341.7,295.0 1341.7,307.4" fill="#e5ddda"/>
<polygon points="1332.0,283.7 1329.6,271.6 1341.7,270.4 1341.7,282.7" fill="#eae6e9"/>
</g>
<g stroke="#b0b0b0" stroke-width="1.1" fill="none">
<line x1="1342.5" y1="97.7" x2="1342.5" y2="566.4"/>
<line x1="1107.3" y1="332.5" x2="1576.0" y2="332.5"/>
<line x1="1341.65" y1="332.0" x2="1507.4" y2="166.3"/>
<line x1="1341.65" y1="332.0" x2="1507.4" y2="497.7"/>
<line x1="1341.65" y1="332.0" x2="1175.9" y2="497.7"/>
<line x1="1341.65" y1="332.0" x2="1175.9" y2="166.3"/>
<circle cx="1341.65" cy="332.0" r="61.6"/>
<circle cx="1341.65" cy="332.0" r="123.2"/>
<circle cx="1341.65" cy="332.0" r="184.8"/>
</g>
<circle cx="1341.65" cy="332.0" r="234.35" fill="none" stroke="#000" stroke-width="1.1"/>
<circle cx="1576.00" cy="332.0" r="0.95" fill="#000"/>
<g font-size="19.0">
<text x="1342.55" y="83.8" text-anchor="middle">N</text>
<text x="1342.0500000000002" y="591.8" text-anchor="middle">S</text>
<text x="1098.0500000000002" y="338.2" text-anchor="end">W</text>
<text x="1590.25" y="338.2">E</text>
<text x="1414.15" y="305.0" text-anchor="middle">0.5</text>
<text x="1470.65" y="281.0" text-anchor="middle">1.0</text>
<text x="1527.65" y="257.5" text-anchor="middle">1.5</text>
</g>
<text x="1341.65" y="60.8" font-size="24.8" text-anchor="middle">CIOFS-NWGOA</text>
</g>
<text x="805.5" y="31.5" font-size="27.8" text-anchor="middle">Jan 2005</text>
<defs><linearGradient id="cb" x1="0" x2="1" y1="0" y2="0">
<stop offset="0.0000" stop-color="#eeedf3"/><stop offset="0.0179" stop-color="#ece9ee"/><stop offset="0.0357" stop-color="#eae6e9"/><stop offset="0.0536" stop-color="#e7e1e2"/><stop offset="0.0714" stop-color="#e5ddda"/><stop offset="0.0893" stop-color="#e2d8d2"/><stop offset="0.1071" stop-color="#e0d4ca"/><stop offset="0.1250" stop-color="#ddd0c1"/><stop offset="0.1429" stop-color="#dacbb8"/><stop offset="0.1607" stop-color="#d7c6ae"/><stop offset="0.1786" stop-color="#d4c0a3"/><stop offset="0.1964" stop-color="#cfbe9c"/><stop offset="0.2143" stop-color="#c9bb96"/><stop offset="0.2321" stop-color="#c3b991"/><stop offset="0.2500" stop-color="#bcb68c"/><stop offset="0.2679" stop-color="#b6b488"/><stop offset="0.2857" stop-color="#afb285"/><stop offset="0.3036" stop-color="#a8b182"/><stop offset="0.3214" stop-color="#a0af80"/><stop offset="0.3393" stop-color="#98ad7f"/><stop offset="0.3571" stop-color="#90ab7d"/><stop offset="0.3750" stop-color="#88a97c"/><stop offset="0.3929" stop-color="#7fa77b"/><stop offset="0.4107" stop-color="#77a579"/><stop offset="0.4286" stop-color="#6fa378"/><stop offset="0.4464" stop-color="#67a076"/><stop offset="0.4643" stop-color="#5c9d75"/><stop offset="0.4821" stop-color="#519a74"/><stop offset="0.5000" stop-color="#469673"/><stop offset="0.5179" stop-color="#3a9272"/><stop offset="0.5357" stop-color="#2f8d70"/><stop offset="0.5536" stop-color="#248970"/><stop offset="0.5714" stop-color="#188570"/><stop offset="0.5893" stop-color="#108170"/><stop offset="0.6071" stop-color="#0a7c6f"/><stop offset="0.6250" stop-color="#05776f"/><stop offset="0.6429" stop-color="#05726f"/><stop offset="0.6607" stop-color="#076d6f"/><stop offset="0.6786" stop-color="#0a686f"/><stop offset="0.6964" stop-color="#0f646e"/><stop offset="0.7143" stop-color="#155f6c"/><stop offset="0.7321" stop-color="#185b6a"/><stop offset="0.7500" stop-color="#1c5668"/><stop offset="0.7679" stop-color="#1f5266"/><stop offset="0.7857" stop-color="#214e64"/><stop offset="0.8036" stop-color="#224a61"/><stop offset="0.8214" stop-color="#23465f"/><stop offset="0.8393" stop-color="#24425c"/><stop offset="0.8571" stop-color="#253d59"/><stop offset="0.8750" stop-color="#263956"/><stop offset="0.8929" stop-color="#263452"/><stop offset="0.9107" stop-color="#25304e"/><stop offset="0.9286" stop-color="#242b49"/><stop offset="0.9464" stop-color="#242644"/><stop offset="0.9643" stop-color="#232240"/><stop offset="0.9821" stop-color="#221e3b"/><stop offset="1.0000" stop-color="#211a36"/>
</linearGradient></defs>
<rect x="406.5" y="605.5" width="800" height="30" fill="url(#cb)" stroke="#000" stroke-width="1.1"/>
<g stroke="#000" stroke-width="1.1">
<line x1="406.5" y1="635.5" x2="406.5" y2="657.4"/><line x1="549.5" y1="635.5" x2="549.5" y2="657.4"/><line x1="692.5" y1="635.5" x2="692.5" y2="657.4"/><line x1="834.5" y1="635.5" x2="834.5" y2="657.4"/><line x1="977.5" y1="635.5" x2="977.5" y2="657.4"/><line x1="1120.5" y1="635.5" x2="1120.5" y2="657.4"/>
</g>
<g font-size="22.2" text-anchor="middle">
<text x="406.3" y="680.8">0</text><text x="549.2" y="680.8">5</text><text x="692.0" y="680.8">10</text><text x="834.9" y="680.8">15</text><text x="977.7" y="680.8">20</text><text x="1120.6" y="680.8">25</text>
</g>
<text x="805.7" y="708.5" font-size="22.2" text-anchor="middle">Currents [m/s] at COI1204; number of occurrences</text>
</svg>
</body></html>
